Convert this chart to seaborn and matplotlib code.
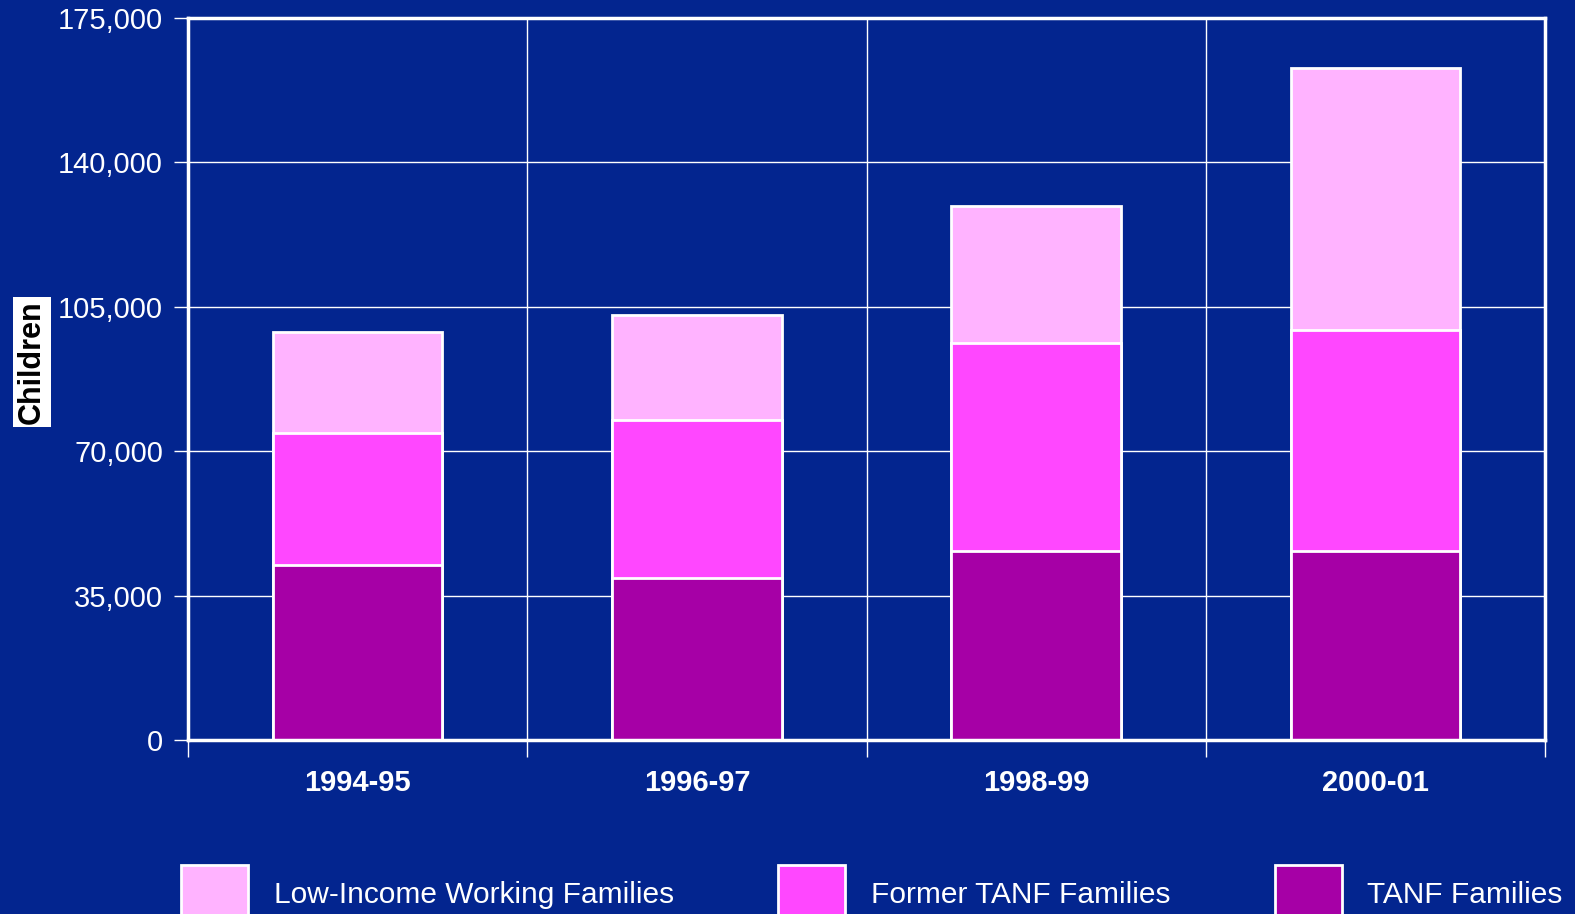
import matplotlib
matplotlib.use("Agg")
import matplotlib.pyplot as plt
import seaborn as sns
import pandas as pd
import numpy as np
from matplotlib.patches import Patch
from matplotlib.ticker import FuncFormatter, FixedLocator

years = ["1994-95", "1996-97", "1998-99", "2000-01"]
tanf = [42500, 39300, 45800, 45800]
former_tanf = [31900, 38300, 50500, 53600]
low_income = [24600, 25400, 33200, 63600]
series_names = ["Low-Income Working Families", "Former TANF Families", "TANF Families"]
colors = {"TANF Families": "#A600A6", "Former TANF Families": "#FF47FF",
          "Low-Income Working Families": "#FFB3FF"}
yticks = [0, 35000, 70000, 105000, 140000, 175000]

BG = "#03258F"

sns.set_theme(style="white")
plt.rcParams["font.family"] = ["Liberation Sans", "DejaVu Sans"]

df = pd.DataFrame({"year": years, "tanf": tanf, "former": former_tanf, "low": low_income})
df["c1"] = df["tanf"]
df["c2"] = df["tanf"] + df["former"]
df["c3"] = df["c2"] + df["low"]

fig = plt.figure(figsize=(15.75, 9.14), dpi=100, facecolor=BG)
ax = fig.add_axes([188/1575, 1-740/914, (1545-188)/1575, (740-18)/914])
ax.set_facecolor(BG)

for col, name in [("c3", "Low-Income Working Families"),
                  ("c2", "Former TANF Families"),
                  ("c1", "TANF Families")]:
    sns.barplot(data=df, x="year", y=col, color=colors[name], width=0.5,
                edgecolor="white", linewidth=2, saturation=1, ax=ax, zorder=3)

ax.set_xlim(-0.5, 3.5)
ax.set_ylim(0, 175000)
ax.set_xlabel("")
ax.set_ylabel("")

ax.yaxis.set_major_locator(FixedLocator(yticks))
ax.yaxis.set_major_formatter(FuncFormatter(lambda v, p: f"{int(v):,}"))
ax.tick_params(axis="y", colors="white", labelcolor="white", labelsize=21,
               length=10, width=1, pad=8, left=True, direction="out")
ax.set_xticks(range(len(years)))
ax.set_xticklabels(years, fontsize=21, fontweight="bold", color="white")
ax.tick_params(axis="x", which="major", length=0, pad=21)
ax.set_xticks([-0.5, 0.5, 1.5, 2.5, 3.5], minor=True)
ax.tick_params(axis="x", which="minor", length=12, width=1, color="white",
               direction="out", bottom=True)

ax.grid(True, axis="y", which="major", color="white", linewidth=1, zorder=0)
ax.grid(True, axis="x", which="minor", color="white", linewidth=1, zorder=0)
ax.grid(False, axis="x", which="major")
ax.set_axisbelow(True)

for s in ax.spines.values():
    s.set_visible(True)
    s.set_color("white")
    s.set_linewidth(2.5)
    s.set_zorder(5)

fig.text(32/1575, 1-362/914, "Children", rotation=90, fontsize=22, fontweight="bold",
         color="black", ha="center", va="center",
         bbox=dict(boxstyle="square,pad=0.12", facecolor="white", edgecolor="none"))

handles = [Patch(facecolor=colors[n], edgecolor="white", linewidth=2, label=n)
           for n in series_names]
leg = fig.legend(handles=handles, loc="upper left", bbox_to_anchor=(181/1575, 1-865/914),
                 ncol=3, frameon=False, fontsize=21.5, handlelength=2.25, handleheight=2.6,
                 handletextpad=0.85, columnspacing=3.5, borderaxespad=0, borderpad=0)
for t in leg.get_texts():
    t.set_color("white")

fig.savefig("out.png", dpi=100, facecolor=BG)
